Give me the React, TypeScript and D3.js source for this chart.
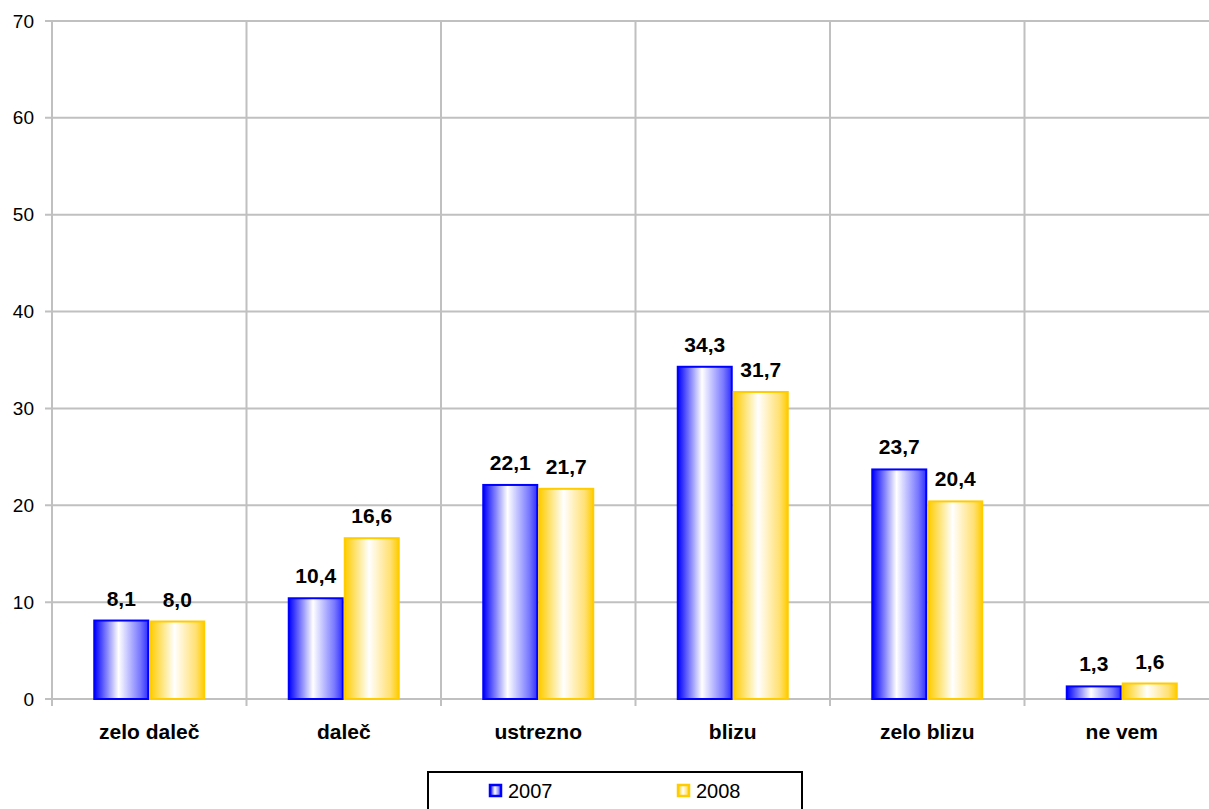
import React from "react";
import * as d3 from "d3";

const categories = ["zelo daleč", "daleč", "ustrezno", "blizu", "zelo blizu", "ne vem"];
const series2007 = [8.1, 10.4, 22.1, 34.3, 23.7, 1.3];
const series2008 = [8.0, 16.6, 21.7, 31.7, 20.4, 1.6];
const seriesNames = ["2007", "2008"];
const yTicks = [0, 10, 20, 30, 40, 50, 60, 70];

const W = 1209;
const H = 809;
const left = 52;
const right = 1219;
const top = 21;
const bottom = 699;
const font = "Liberation Sans, Arial, sans-serif";

export default function App() {
  const x = d3.scaleBand<string>().domain(categories).range([left, right]);
  const inner = d3.scaleBand<string>().domain(seriesNames).range([0, 112]);
  const y = d3.scaleLinear().domain([0, 70]).range([bottom, top]);
  const fmt = (v: number) => v.toFixed(1).replace(".", ",");
  const off = (x.bandwidth() - 112) / 2;
  const data = [series2007, series2008];
  const strokes = ["#0000ff", "#ffcc00"];
  const fills = ["url(#gBlue)", "url(#gYellow)"];
  const boundaries = categories.map((c) => x(c)!).concat([right]);

  return (
    <svg width={W} height={H} style={{ position: "absolute", left: 0, top: 0 }} fontFamily={font}>
      <defs>
        <linearGradient id="gBlue" x1="0" x2="1" y1="0" y2="0">
          <stop offset="0" stopColor="#0000ff" />
          <stop offset="0.45" stopColor="#ffffff" />
          <stop offset="0.85" stopColor="#7878ff" />
          <stop offset="1" stopColor="#3030ff" />
        </linearGradient>
        <linearGradient id="gYellow" x1="0" x2="1" y1="0" y2="0">
          <stop offset="0" stopColor="#ffcc00" />
          <stop offset="0.45" stopColor="#ffffff" />
          <stop offset="0.85" stopColor="#ffe070" />
          <stop offset="1" stopColor="#ffcc00" />
        </linearGradient>
      </defs>
      <rect width={W} height={H} fill="#fff" />
      {yTicks.map((t) => (
        <g key={t}>
          <line x1={left - 7} x2={right} y1={y(t)} y2={y(t)} stroke="#c0c0c0" strokeWidth={2} />
          <text x={34} y={y(t) + 6.5} textAnchor="end" fontSize={19} fill="#000">
            {t}
          </text>
        </g>
      ))}
      {boundaries.map((bx, i) => (
        <line key={i} x1={bx} x2={bx} y1={top} y2={bottom + 7} stroke="#c0c0c0" strokeWidth={2} />
      ))}
      {categories.map((c, ci) => (
        <g key={c}>
          {seriesNames.map((s, si) => {
            const v = data[si][ci];
            const bx = x(c)! + off + inner(s)!;
            return (
              <g key={s}>
                <rect
                  x={bx + 1}
                  y={y(v)}
                  width={inner.bandwidth() - 2}
                  height={bottom - y(v)}
                  fill={fills[si]}
                  stroke={strokes[si]}
                  strokeWidth={2}
                />
                <text
                  x={bx + inner.bandwidth() / 2}
                  y={y(v) - 15}
                  textAnchor="middle"
                  fontSize={21}
                  fontWeight="bold"
                >
                  {fmt(v)}
                </text>
              </g>
            );
          })}
          <text x={x(c)! + x.bandwidth() / 2} y={739} textAnchor="middle" fontSize={21} fontWeight="bold">
            {c}
          </text>
        </g>
      ))}
      <rect x={428} y={772} width={374} height={45} fill="#fff" stroke="#000" strokeWidth={2} />
      {seriesNames.map((s, si) => {
        const lx = [489, 677][si];
        return (
          <g key={s}>
            <rect x={lx + 1} y={785} width={11} height={11} fill={fills[si]} stroke={strokes[si]} strokeWidth={2.5} />
            <text x={lx + 19} y={798} fontSize={20}>
              {s}
            </text>
          </g>
        );
      })}
    </svg>
  );
}
